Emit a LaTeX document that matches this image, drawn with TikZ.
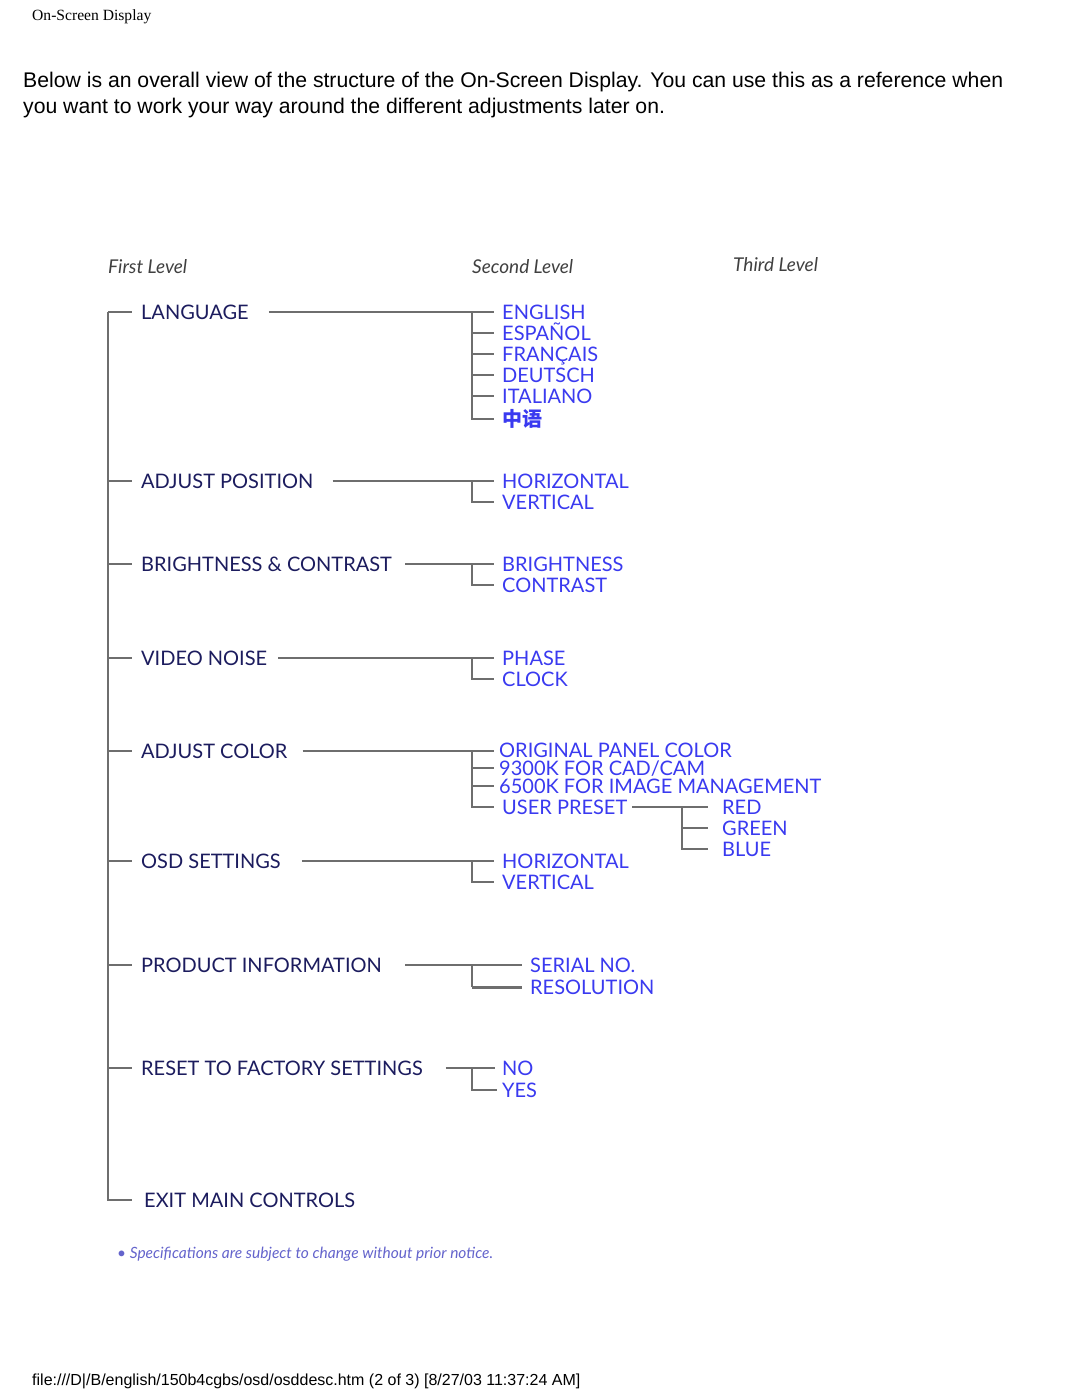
\documentclass[tikz,border=0pt]{standalone}
\usepackage{fontspec}
\setmainfont{Liberation Sans}
\newfontfamily\osdfont{Lato}
\newfontfamily\cjkfont{Noto Sans CJK SC}
\newfontfamily\timesfont{Liberation Serif}
\usetikzlibrary{positioning}
\definecolor{navy}{HTML}{1C1C5E}
\definecolor{osdblue}{HTML}{3A3AF0}
\definecolor{linegray}{HTML}{6E6E6E}
\definecolor{noteblue}{HTML}{6464CC}

\begin{document}
\begin{tikzpicture}[
x=1pt,y=-1pt,
first/.style={
  anchor=west,
  inner sep=0pt,
  text height=14.5pt,
  text depth=0pt,
  text=navy,
  font={\osdfont\fontsize{20}{20}\selectfont}
  },
second/.style={
  first,
  text=osdblue
  },
level/.style={
  anchor=base west,
  inner sep=0pt,
  text=black!75,
  font={\osdfont\itshape\fontsize{19}{19}\selectfont}
  },
page/.style={
  anchor=base west,
  inner sep=0pt
  },
tree/.style={
  draw=linegray,
  line width=1.4pt
  }
]

\fill[white] (0,0) rectangle (1080,1397);
\useasboundingbox (0,0) rectangle (1080,1397);

\node[page, font=\timesfont\fontsize{15.6}{15.6}\selectfont] (pagehead) at (32,21) {On-Screen Display};
\node[page, font=\fontsize{21.2}{21.2}\selectfont] (intro1) at (23,88)
  {Below is an overall view of the structure of the On-Screen Display. You can use this as a reference when};
\node[page, font=\fontsize{21.2}{21.2}\selectfont] (intro2) at (23,113)
  {you want to work your way around the different adjustments later on.};

\node[level] (lvl1) at (108,273) {First Level};
\node[level] (lvl2) at (472,273) {Second Level};
\node[level] (lvl3) at (733,271) {Third Level};

\coordinate (trunk) at (108,312);
\coordinate (br) at (472,0);
\coordinate (tip) at (494,0);
\coordinate (br3) at (682,0);
\coordinate (tip3) at (708,0);

\foreach \nm/\txt/\yy in {lang/LANGUAGE/312, pos/ADJUST POSITION/481,
  bc/BRIGHTNESS \& CONTRAST/564, noise/VIDEO NOISE/658, color/ADJUST COLOR/751,
  osd/OSD SETTINGS/861, info/PRODUCT INFORMATION/965, reset/RESET TO FACTORY SETTINGS/1068}
{
  \node[first] (\nm) at (141,\yy) {\txt};
  \draw[tree] (\nm.west -| trunk) -- ++(24,0);
}
\node[first] (exit) at (144,1200) {EXIT MAIN CONTROLS};
\draw[tree] (trunk) -- (exit.west -| trunk) -- ++(24,0);

\foreach \txt [count=\i] in {ENGLISH,ESPAÑOL,FRANÇAIS,DEUTSCH,ITALIANO}
  \node[second] (lang-\i) at (502,{291+21*\i}) {\txt};
\node[second, font={\cjkfont\bfseries\fontsize{20}{20}\selectfont}] (lang-6) at (502,419) {中语};
\draw[tree] ([xshift=20]lang.east) -- (lang-1.west -| tip);
\draw[tree] (lang-1.west -| br) |- (lang-6.west -| tip);
\foreach \i in {2,...,5}
  \draw[tree] (lang-\i.west -| br) -- (lang-\i.west -| tip);

\foreach \nm/\ya/\aa/\bb/\gap in {pos/481/HORIZONTAL/VERTICAL/19, bc/564/BRIGHTNESS/CONTRAST/13,
  noise/658/PHASE/CLOCK/11, osd/861/HORIZONTAL/VERTICAL/21}
{
  \node[second] (\nm-1) at (502,\ya) {\aa};
  \node[second] (\nm-2) at (502,{\ya+21}) {\bb};
  \draw[tree] ([xshift=\gap]\nm.east) -- (\nm-1.west -| tip);
  \draw[tree] (\nm-1.west -| br) |- (\nm-2.west -| tip);
}

\node[second] (color-1) at (499,750) {ORIGINAL PANEL COLOR};
\node[second] (color-2) at (499,768) {9300K FOR CAD/CAM};
\node[second] (color-3) at (499,786) {6500K FOR IMAGE MANAGEMENT};
\node[second] (color-4) at (502,807) {USER PRESET};
\draw[tree] ([xshift=15]color.east) -- (color.east -| tip);
\draw[tree] (color.east -| br) |- (color-4.west -| tip);
\foreach \i in {2,3}
  \draw[tree] (color-\i.west -| br) -- (color-\i.west -| tip);

\foreach \txt [count=\i] in {RED,GREEN,BLUE}
  \node[second] (preset-\i) at (722,{786+21*\i}) {\txt};
\draw[tree] ([xshift=5]color-4.east) -- (preset-1.west -| tip3);
\draw[tree] (preset-1.west -| br3) |- (preset-3.west -| tip3);
\draw[tree] (preset-2.west -| br3) -- (preset-2.west -| tip3);

\node[second] (info-1) at (530,965) {SERIAL NO.};
\node[second] (info-2) at (530,987) {RESOLUTION};
\draw[tree] ([xshift=23]info.east) -- ([xshift=-8]info-1.west);
\draw[tree] (info-1.west -| br) -- (info-2.west -| br);
\draw[tree, line width=3pt] (info-2.west -| br) -- ([xshift=-8]info-2.west);

\node[second] (reset-1) at (502,1068) {NO};
\node[second] (reset-2) at (502,1090) {YES};
\draw[tree] ([xshift=23]reset.east) -- ([xshift=-7]reset-1.west);
\draw[tree] (reset-1.west -| br) |- ([xshift=-5]reset-2.west);

\node[page, text=noteblue, font={\osdfont\itshape\fontsize{15.5}{15.5}\selectfont}] (note) at (117,1258)
  {\textbullet{} Specifications are subject to change without prior notice.};

\node[page, font=\fontsize{16}{16}\selectfont] (pagefoot) at (32,1385)
  {file:///D|/B/english/150b4cgbs/osd/osddesc.htm (2 of 3) [8/27/03 11:37:24 AM]};
\end{tikzpicture}
\end{document}
